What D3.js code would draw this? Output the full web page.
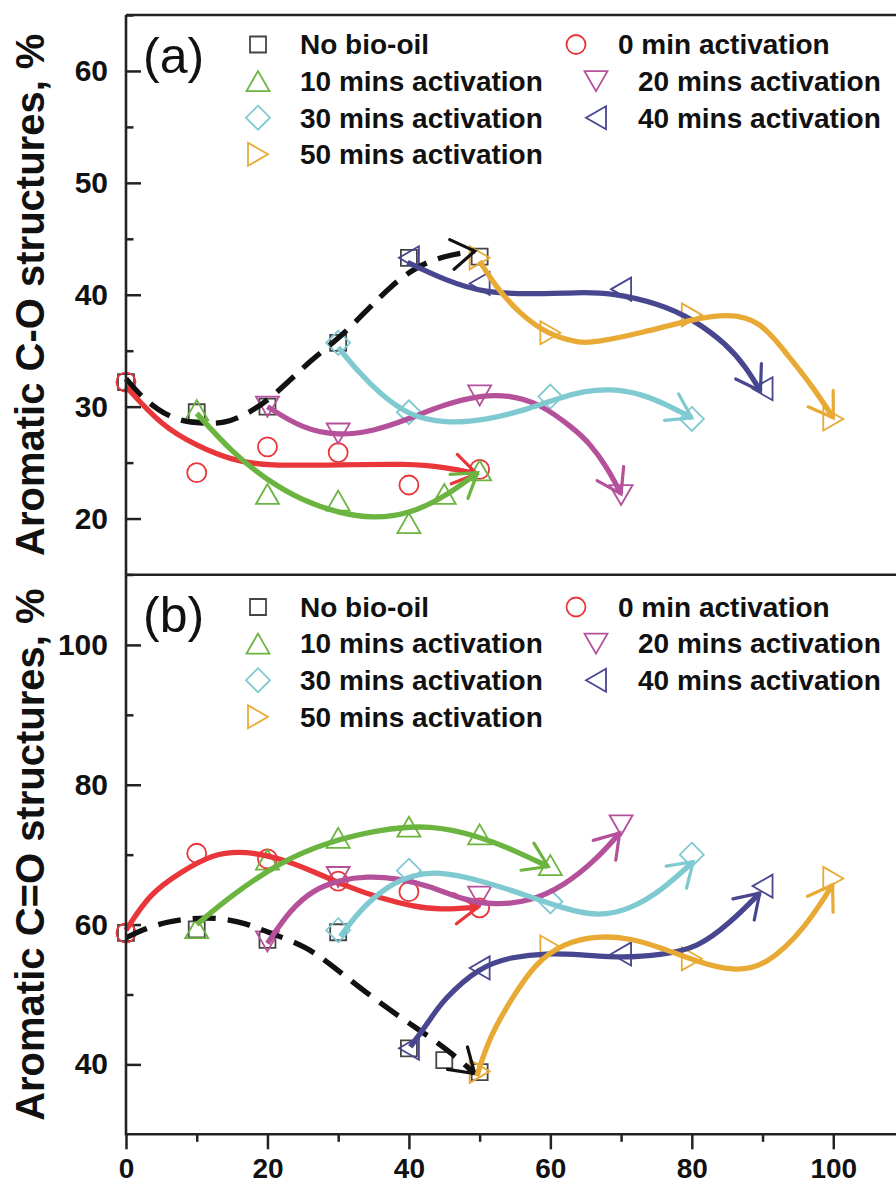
<!DOCTYPE html>
<html>
<head>
<meta charset="utf-8">
<script src="https://cdn.jsdelivr.net/npm/d3@7"></script>
<style>
  body { margin: 0; background: #fff; }
  svg { display: block; }
  text { font-family: "Liberation Sans", Arial, sans-serif; fill: #111; }
</style>
</head>
<body>
<script>
// dimensioni della pagina
const width = 896;
const height = 1186;

// serie e stili
const names = ["No bio-oil", "0 min activation", "10 mins activation", "20 mins activation",
  "30 mins activation", "40 mins activation", "50 mins activation"];
const colors = ["#454545", "#e8363b", "#6bb43f", "#b5509a", "#7fc9d1", "#47468f", "#e8aa35"];
const shapes = ["square", "circle", "up", "down", "diamond", "left", "right"];

// tick
const xTicks = [0, 20, 40, 60, 80, 100];
const xMinor = [10, 30, 50, 70, 90];
const aTicks = [20, 30, 40, 50, 60];
const aMinor = [15, 25, 35, 45, 55, 65];
const bTicks = [40, 60, 80, 100];
const bMinor = [50, 70, 90];

// (a) Aromatic C-O: punti misurati [x, y]
const coPoints = [
  [[0, 32.2], [10, 29.5], [20, 30.0], [30, 35.7], [40, 43.3], [50, 43.4]],
  [[0, 32.2], [10, 24.1], [20, 26.4], [30, 25.9], [40, 23.0], [50, 24.4]],
  [[10, 29.7], [20, 22.2], [30, 21.6], [40, 19.6], [45, 22.2], [50, 24.3]],
  [[20, 30.0], [30, 27.6], [50, 31.0], [70, 22.1]],
  [[30, 35.7], [40, 29.5], [60, 30.9], [80, 28.9]],
  [[40, 43.3], [50, 41.0], [70, 40.5], [90, 31.6]],
  [[50, 43.3], [60, 36.6], [80, 38.2], [100, 28.9]]
];
// (a) curve di tendenza
const coTrend = [
  [[0, 32.5], [2, 31.0], [4.5, 29.7], [7.5, 28.7], [11, 28.5], [14, 28.5], [17, 29.3], [20.5, 30.7],
   [26.5, 34.4], [30, 36.0], [34.5, 38.9], [37.5, 40.8], [41, 42.5], [45, 43.5], [49.3, 43.9]],
  [[0, 31.8], [5, 28.3], [10, 26.5], [15, 25.2], [20, 24.7], [30, 24.8], [40, 24.9], [45, 24.6], [49.6, 24.0]],
  [[10, 29.4], [15, 25.9], [20, 23.4], [25, 21.6], [30, 20.5], [35, 20.0], [40, 20.4], [45, 21.9], [49.7, 24.1]],
  [[20, 30.0], [25, 28.0], [30, 27.4], [35, 27.8], [40, 28.9], [45, 30.2], [50, 31.0], [54, 31.05],
   [58.5, 30.3], [63.2, 28.1], [65.6, 26.7], [68, 24.6], [70, 22.2]],
  [[30, 35.3], [33, 33.0], [36, 31.1], [40, 29.2], [45, 28.5], [51, 28.8], [57, 29.8], [61.3, 30.8],
   [65, 31.4], [68.4, 31.6], [73, 31.15], [77, 30.0], [80, 29.0]],
  [[39.8, 42.9], [45.3, 41.25], [50.5, 40.2], [57, 40.05], [64, 40.2], [68.4, 40.2], [75.5, 39.2],
   [80.2, 37.8], [84.9, 35.6], [87.7, 33.5], [89.7, 31.4]],
  [[50, 43.0], [52.4, 40.6], [55.7, 38.3], [59.5, 36.5], [64, 35.7], [66, 35.7], [73, 36.6], [80, 37.8],
   [85, 38.3], [89.6, 37.8], [93.8, 34.4], [97.2, 31.7], [100, 29.0]]
];

// (b) Aromatic C=O: punti misurati
const cxoPoints = [
  [[0, 58.8], [10, 59.3], [20, 57.8], [30, 58.9], [40, 42.3], [45, 40.6], [50, 38.9]],
  [[0, 58.8], [10, 70.2], [20, 69.4], [30, 66.2], [40, 64.7], [50, 62.4]],
  [[10, 59.5], [20, 69.3], [30, 72.4], [40, 74.0], [50, 72.9], [60, 68.5]],
  [[20, 57.6], [30, 66.8], [50, 64.0], [70, 74.2]],
  [[30, 59.2], [40, 67.7], [60, 63.3], [80, 70.0]],
  [[40, 42.3], [50, 53.8], [70, 55.8], [90, 65.5]],
  [[50, 39.0], [60, 56.8], [80, 55.1], [100, 66.6]]
];
// (b) curve di tendenza
const cxoTrend = [
  [[0, 58.1], [2.4, 59.3], [5.7, 60.4], [9, 60.9], [13, 61.0], [17, 60.2], [20.3, 58.8], [25.5, 56.9],
   [29.3, 54.0], [34.9, 49.5], [40, 45.9], [45.3, 42.3], [49.3, 38.7]],
  [[0, 59.2], [3.4, 64.5], [7.6, 67.4], [12.3, 70.2], [17, 70.5], [21.8, 69.5], [26.5, 67.6],
   [31.2, 65.45], [35.9, 63.8], [40.6, 62.6], [44.4, 62.1], [49.8, 62.5]],
  [[10, 60.0], [14.7, 64.0], [21.8, 69.0], [28.8, 71.9], [35.9, 73.6], [43, 74.3], [50, 72.6],
   [54.7, 70.7], [59.7, 68.3]],
  [[20, 57.3], [23.2, 62.1], [26.5, 65.0], [30.3, 66.4], [34, 66.9], [38.3, 66.65], [43, 65.5],
   [47.7, 63.5], [52.4, 62.8], [57.1, 63.3], [61.8, 65.45], [66.5, 69.3], [69.8, 73.1]],
  [[30.3, 58.3], [33.1, 62.1], [36.8, 65.45], [40.6, 67.1], [44, 67.6], [50, 66.4], [57.1, 64.0],
   [61.8, 62.35], [66.5, 61.15], [71.2, 62.1], [75.9, 65.0], [80.2, 69.0]],
  [[40.2, 42.5], [43, 46.4], [44.8, 49.2], [50, 54.0], [54.7, 55.4], [59.4, 55.9], [64.2, 55.7],
   [70.3, 55.2], [75.9, 55.7], [80.7, 56.6], [85.4, 60.2], [89.6, 64.5]],
  [[49.6, 38.3], [51.4, 44.0], [54.7, 49.7], [57.9, 54.5], [61.8, 57.3], [66.5, 58.4], [71.2, 58.1],
   [75.9, 56.6], [80.7, 54.7], [85.8, 53.3], [90.5, 54.0], [96.2, 59.7], [99.9, 65.7]]
];

const svg = d3.select("body").append("svg")
  .attr("width", width)
  .attr("height", height);

// punte di freccia aperte, una per colore
const defs = svg.append("defs");
colors.forEach((c, i) => {
  defs.append("marker")
    .attr("id", "arrow" + i)
    .attr("viewBox", "-30 -20 36 40")
    .attr("refX", 0).attr("refY", 0)
    .attr("markerUnits", "userSpaceOnUse")
    .attr("markerWidth", 36).attr("markerHeight", 40)
    .attr("orient", "auto")
    .append("path")
    .attr("d", "M-23,-15L0,0L-23,15")
    .attr("fill", "none")
    .attr("stroke", i === 0 ? "#111" : c)
    .attr("stroke-width", 3.2)
    .attr("stroke-linecap", "round");
});

// forme dei simboli
function symPath(shape) {
  switch (shape) {
    case "square": return "M-8,-8H8V8H-8Z";
    case "circle": return "M9.5,0A9.5,9.5 0 1,1 -9.5,0A9.5,9.5 0 1,1 9.5,0Z";
    case "up": return "M0,-10L11.5,10L-11.5,10Z";
    case "down": return "M0,10L11.5,-10L-11.5,-10Z";
    case "diamond": return "M0,-12L12,0L0,12L-12,0Z";
    case "left": return "M-10,0L10,-11.5L10,11.5Z";
    case "right": return "M10,0L-10,-11.5L-10,11.5Z";
  }
}

const x = d3.scaleLinear().domain([0, 110]).range([126, 904]);

const panels = [
  { y: d3.scaleLinear().domain([15, 65]).range([574.5, 15]), top: 15, bottom: 574.5,
    points: coPoints, trend: coTrend, ticks: aTicks, minor: aMinor,
    title: "Aromatic C-O structures, %", label: "(a)", labelY: 73, legendY: 44.5 },
  { y: d3.scaleLinear().domain([30, 110]).range([1134.3, 575]), top: 575, bottom: 1134.3,
    points: cxoPoints, trend: cxoTrend, ticks: bTicks, minor: bMinor,
    title: "Aromatic C=O structures, %", label: "(b)", labelY: 632, legendY: 607 }
];

panels.forEach(p => {
  const g = svg.append("g");

  // asse y: tacche verso l'interno
  const ax = g.append("g")
    .attr("transform", "translate(126,0)")
    .call(d3.axisLeft(p.y).tickValues(p.ticks).tickSize(-15).tickPadding(18).tickFormat(d3.format("d")));
  ax.select(".domain").remove();
  ax.selectAll("line").attr("stroke", "#222").attr("stroke-width", 2.5);
  ax.selectAll("text").attr("font-size", 30).attr("font-weight", "bold")
    .attr("font-family", "Liberation Sans, Arial, sans-serif").attr("fill", "#111");

  const axm = g.append("g")
    .attr("transform", "translate(126,0)")
    .call(d3.axisLeft(p.y).tickValues(p.minor).tickSize(-7.5).tickFormat(""));
  axm.select(".domain").remove();
  axm.selectAll("line").attr("stroke", "#222").attr("stroke-width", 2.5);

  // titolo asse y
  g.append("text")
    .attr("transform", "translate(43.5," + ((p.top + p.bottom) / 2) + ") rotate(-90)")
    .attr("text-anchor", "middle")
    .attr("font-size", 40)
    .attr("font-weight", "bold")
    .text(p.title);

  // etichetta del pannello
  g.append("text")
    .attr("x", 143).attr("y", p.labelY)
    .attr("font-size", 50)
    .text(p.label);

  // simboli
  p.points.forEach((pts, i) => {
    g.append("g").selectAll("path")
      .data(pts)
      .join("path")
      .attr("transform", d => "translate(" + x(d[0]) + "," + p.y(d[1]) + ")")
      .attr("d", symPath(shapes[i]))
      .attr("fill", "none")
      .attr("stroke", colors[i])
      .attr("stroke-width", 1.8);
  });

  // curve con freccia
  const line = d3.line()
    .x(d => x(d[0]))
    .y(d => p.y(d[1]))
    .curve(d3.curveBasis);

  p.trend.forEach((pts, i) => {
    g.append("path")
      .attr("d", line(pts))
      .attr("fill", "none")
      .attr("stroke", i === 0 ? "#111" : colors[i])
      .attr("stroke-width", 5.3)
      .attr("stroke-dasharray", i === 0 ? "23,12" : null)
      .attr("marker-end", "url(#arrow" + i + ")");
  });

  // legenda
  names.forEach((n, i) => {
    const row = Math.floor(i / 2);
    const col = i % 2;
    const sx = col === 0 ? 258 : (row === 0 ? 576 : 596);
    const ly = p.legendY + row * 36.6;
    g.append("path")
      .attr("transform", "translate(" + sx + "," + ly + ")")
      .attr("d", symPath(shapes[i]))
      .attr("fill", "none")
      .attr("stroke", colors[i])
      .attr("stroke-width", 1.8);
    g.append("text")
      .attr("x", sx + 42).attr("y", ly)
      .attr("dy", "0.35em")
      .attr("font-size", 28)
      .attr("font-weight", "bold")
      .text(n);
  });
});

// asse x in basso: tacche verso l'esterno
const xa = svg.append("g")
  .attr("transform", "translate(0,1134.3)")
  .call(d3.axisBottom(x).tickValues(xTicks).tickSize(15).tickPadding(9).tickFormat(d3.format("d")));
xa.select(".domain").remove();
xa.selectAll("line").attr("stroke", "#222").attr("stroke-width", 2.5);
xa.selectAll("text").attr("font-size", 28).attr("font-weight", "bold")
  .attr("font-family", "Liberation Sans, Arial, sans-serif").attr("fill", "#111");

const xm = svg.append("g")
  .attr("transform", "translate(0,1134.3)")
  .call(d3.axisBottom(x).tickValues(xMinor).tickSize(7.5).tickFormat(""));
xm.select(".domain").remove();
xm.selectAll("line").attr("stroke", "#222").attr("stroke-width", 2.5);

// cornice
const frame = svg.append("g").attr("stroke", "#222").attr("stroke-width", 2.6);
frame.append("line").attr("x1", 126).attr("x2", 126).attr("y1", 15).attr("y2", 1135.5);
[15, 574.8, 1134.3].forEach(yy => {
  frame.append("line").attr("x1", 126).attr("x2", width).attr("y1", yy).attr("y2", yy);
});
</script>
</body>
</html>
